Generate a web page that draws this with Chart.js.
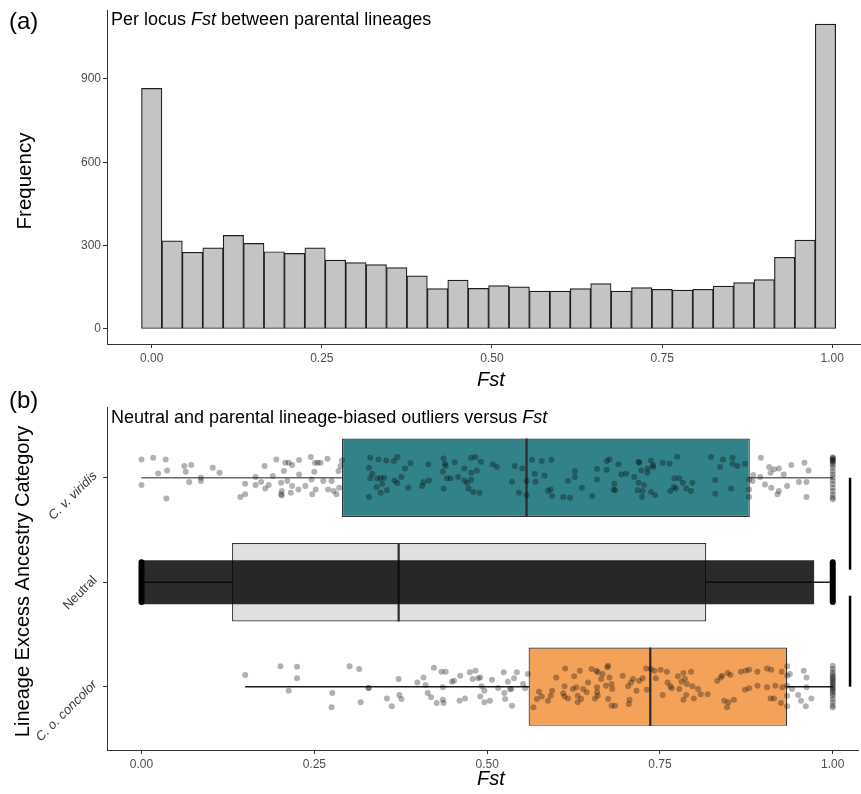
<!DOCTYPE html>
<html>
<head>
<meta charset="utf-8">
<script src="https://cdn.jsdelivr.net/npm/chart.js@4.4.1/dist/chart.umd.min.js"></script>
<style>
html, body { margin: 0; padding: 0; background: #fff; }
#wrap { position: relative; width: 861px; height: 794px; }
#histWrap { position: absolute; left: 0; top: 0; width: 861px; height: 390px; }
#boxWrap { position: absolute; left: 0; top: 390px; width: 861px; height: 404px; }
</style>
</head>
<body>
<div id="wrap">
  <div id="histWrap"><canvas id="histChart"></canvas></div>
  <div id="boxWrap"><canvas id="boxChart"></canvas></div>
</div>
<script>
// -------------------------
// DATA (a) histogram
// -------------------------
const binCenters = [0.00, 0.03, 0.06, 0.09, 0.12, 0.15, 0.18, 0.21, 0.24, 0.27, 0.30, 0.33,
                    0.36, 0.39, 0.42, 0.45, 0.48, 0.51, 0.54, 0.57, 0.60, 0.63, 0.66, 0.69,
                    0.72, 0.75, 0.78, 0.81, 0.84, 0.87, 0.90, 0.93, 0.96, 0.99];
const binCounts = [866, 317, 276, 292, 337, 308, 278, 272, 292, 248, 239, 232,
                   221, 191, 145, 176, 146, 156, 152, 136, 136, 145, 163, 136,
                   149, 143, 140, 143, 154, 167, 178, 258, 320, 1097];
const fstTicks = [0, 0.25, 0.5, 0.75, 1];
const freqTicks = [0, 300, 600, 900];

// -------------------------
// DATA (b) boxplots
// -------------------------
const categories = ['C. o. concolor', 'Neutral', 'C. v. viridis'];
const catPos = [1, 2, 3];
const catItalic = [true, false, true];
const boxQ1 = [0.560, 0.131, 0.290];
const boxMedian = [0.736, 0.372, 0.557];
const boxQ3 = [0.934, 0.817, 0.880];
const whiskerLow = [0.150, 0.000, 0.000];
const whiskerHigh = [1.000, 1.000, 1.000];
const boxColors = ['#f4a25a', '#e0e0e0', '#318289'];
const whiskerColors = ['#1a1a1a', '#1a1a1a', '#6b6b6b'];

// Neutral loci: a dense cloud, summarised by its range and spread
const neutralRange = [0.000, 0.973];
const neutralSpread = 0.42;
const neutralStackFst = [0.000, 1.000];

// [Fst, vertical jitter]
const viridisPoints = [
  [0.000,0.175],[0.017,0.191],[0.035,0.175],[0.000,-0.070],[0.024,0.041],[0.037,0.070],[0.036,-0.198],
  [0.062,0.112],[0.072,0.121],[0.064,0.057],[0.069,-0.041],[0.086,0.000],[0.086,-0.032],[0.103,0.096],
  [0.113,0.048],[0.143,-0.185],[0.150,-0.159],[0.150,-0.057],[0.165,0.006],[0.165,-0.070],[0.173,-0.041],
  [0.178,0.112],[0.179,-0.102],[0.184,-0.070],[0.190,0.016],[0.195,0.175],[0.202,-0.048],[0.203,-0.128],
  [0.206,0.064],[0.208,0.144],[0.211,-0.032],[0.213,0.144],[0.216,-0.144],[0.218,0.121],[0.202,-0.159],
  [0.203,-0.169],[0.218,-0.080],[0.228,0.169],[0.228,0.032],[0.227,-0.112],[0.237,-0.080],[0.245,0.198],
  [0.246,-0.016],[0.247,-0.159],[0.250,0.057],[0.251,0.144],[0.252,-0.112],[0.255,0.144],[0.259,0.144],
  [0.263,-0.032],[0.269,0.182],[0.270,-0.112],[0.275,-0.032],[0.278,-0.128],[0.282,-0.159],[0.285,0.064],
  [0.290,0.166],[0.288,0.112],[0.286,-0.096],
  [0.331,0.191],[0.329,0.096],[0.334,0.038],[0.331,-0.006],[0.343,0.175],[0.341,-0.006],[0.346,-0.006],
  [0.351,0.000],[0.340,-0.089],[0.348,-0.057],[0.346,-0.144],[0.355,-0.121],[0.354,0.166],[0.365,0.159],
  [0.370,0.198],[0.366,-0.026],[0.370,-0.051],[0.376,0.006],[0.381,0.089],[0.386,-0.096],[0.389,0.140],
  [0.329,-0.185],[0.406,-0.080],[0.408,-0.041],[0.416,-0.026],[0.415,0.128],[0.437,0.185],[0.439,0.134],
  [0.440,0.112],[0.436,0.057],[0.442,-0.006],[0.447,-0.006],[0.437,-0.102],[0.453,0.147],[0.458,0.006],
  [0.467,0.089],[0.467,-0.026],[0.471,-0.048],[0.473,-0.102],[0.477,0.191],[0.483,0.198],[0.477,0.048],
  [0.477,-0.019],[0.485,0.070],[0.480,-0.137],[0.489,-0.144],[0.491,0.153],[0.508,0.128],[0.514,0.102],
  [0.540,0.112],[0.551,0.089],[0.536,-0.038],[0.546,-0.144],[0.557,-0.032],[0.557,-0.166],[0.565,0.172],
  [0.579,0.159],[0.593,0.172],[0.569,0.038],[0.583,0.022],[0.570,-0.038],[0.588,-0.128],[0.592,-0.112],
  [0.594,-0.175],[0.610,-0.185],[0.620,-0.191],[0.617,-0.032],[0.627,0.064],[0.627,0.006],[0.637,-0.096],
  [0.652,-0.175],[0.659,0.083],[0.659,-0.016],[0.673,0.159],[0.673,0.077],
  [0.677,0.175],[0.690,0.128],[0.694,0.032],[0.701,0.038],[0.684,-0.057],[0.683,-0.112],[0.685,-0.121],
  [0.713,0.006],[0.720,0.144],[0.719,0.153],[0.723,0.070],[0.732,0.089],[0.732,0.048],[0.737,0.166],
  [0.740,0.121],[0.740,0.102],[0.754,0.144],[0.764,0.134],[0.775,0.201],[0.719,-0.048],[0.727,-0.070],
  [0.718,-0.121],[0.725,-0.128],[0.724,-0.185],[0.737,-0.137],[0.743,-0.166],[0.771,-0.006],[0.778,-0.006],
  [0.770,-0.089],[0.773,-0.102],[0.783,-0.048],[0.788,-0.102],[0.797,-0.048],[0.795,-0.128],[0.765,-0.128],
  [0.824,0.198],[0.841,0.175],[0.837,0.102],[0.855,0.191],[0.855,0.134],[0.862,0.112],[0.873,0.134],
  [0.830,-0.022],[0.853,-0.102],[0.830,-0.153],[0.879,-0.016],[0.879,-0.112],[0.879,-0.185],[0.896,0.191],
  [0.908,0.102],[0.915,0.080],[0.922,0.089],[0.910,0.048],[0.929,0.032],[0.940,0.121],[0.959,0.144],
  [0.965,0.070],[0.885,0.026],[0.884,-0.032],[0.895,0.006],[0.902,-0.064],[0.911,-0.096],[0.922,-0.128],
  [0.920,-0.159],[0.934,-0.080],[0.951,-0.041],[0.962,-0.041],[0.962,-0.185]
];
const viridisStackJit = [0.195, 0.188, 0.180, 0.172, 0.163, 0.152, 0.140, 0.122, 0.095, 0.062,
                         0.030, 0.002, -0.028, -0.060, -0.095, -0.128, -0.160, -0.190, -0.205];

const concolorPoints = [
  [0.150,0.112],[0.201,0.195],[0.225,0.191],[0.225,0.080],[0.213,-0.038],[0.276,-0.061],[0.275,-0.198],
  [0.301,0.195],[0.315,0.169],[0.317,-0.150],[0.328,-0.013],
  [0.329,-0.013],[0.355,-0.112],[0.362,-0.188],[0.372,0.073],[0.373,-0.080],[0.376,-0.118],[0.399,0.041],
  [0.408,0.089],[0.411,0.016],[0.414,-0.061],[0.419,-0.102],[0.423,0.182],[0.427,-0.156],[0.434,0.144],
  [0.440,0.144],[0.436,-0.006],[0.436,-0.124],[0.437,-0.156],[0.449,0.048],[0.452,0.057],[0.461,0.105],
  [0.460,-0.134],[0.468,-0.112],[0.475,0.137],[0.483,0.153],[0.479,0.073],[0.487,0.080],[0.490,0.089],
  [0.492,0.003],[0.490,-0.093],[0.496,-0.150],[0.496,-0.038],[0.504,-0.134],[0.507,0.067],[0.516,-0.013],
  [0.524,0.137],[0.530,0.048],[0.525,-0.061],[0.526,-0.118],[0.533,-0.022],[0.535,-0.022],[0.536,-0.182],
  [0.539,0.080],[0.543,0.137],[0.552,0.026],[0.559,0.121],[0.555,-0.016],
  [0.567,-0.198],[0.572,-0.118],[0.575,-0.048],[0.579,-0.093],[0.588,-0.134],[0.592,-0.086],[0.594,-0.038],
  [0.600,0.089],[0.610,-0.064],[0.612,0.003],[0.613,0.175],[0.612,-0.093],[0.617,-0.112],[0.624,-0.022],
  [0.626,0.099],[0.629,-0.006],[0.631,-0.086],[0.631,-0.150],[0.634,0.153],[0.636,-0.118],[0.639,-0.022],
  [0.646,0.041],[0.644,-0.054],[0.651,0.169],[0.658,0.153],[0.660,0.137],[0.659,-0.006],[0.659,-0.054],
  [0.660,-0.086],[0.665,0.073],[0.667,0.121],[0.656,-0.112],[0.674,0.185],[0.672,0.010],
  [0.675,0.201],[0.677,0.089],[0.680,0.026],[0.681,-0.022],[0.675,-0.118],[0.680,-0.182],[0.685,-0.182],
  [0.696,0.105],[0.704,0.003],[0.708,0.041],[0.711,0.073],[0.706,-0.124],[0.705,-0.166],[0.716,-0.038],
  [0.720,0.057],[0.725,0.080],[0.731,-0.029],[0.730,0.175],[0.737,0.169],[0.742,0.153],[0.744,0.080],
  [0.751,0.163],[0.754,-0.080],[0.760,0.144],[0.761,0.041],[0.765,0.003],[0.767,-0.016],[0.776,0.099],
  [0.778,-0.022],[0.781,0.048],[0.784,0.131],[0.786,0.073],[0.784,-0.124],[0.789,0.026],[0.788,-0.080],
  [0.795,0.144],[0.797,0.003],[0.799,-0.112],[0.805,-0.022],[0.809,-0.073],[0.819,-0.073],[0.833,0.057],
  [0.838,0.089],[0.840,0.105],[0.848,0.131],[0.852,0.112],[0.843,-0.134],[0.847,-0.198],[0.849,-0.150],
  [0.857,-0.124],[0.867,0.144],[0.874,0.153],[0.879,0.163],[0.891,0.144],[0.873,-0.029],[0.879,-0.016],
  [0.891,0.010],[0.905,0.175],[0.911,0.163],[0.905,-0.006],[0.910,-0.112],[0.917,0.010],[0.915,-0.112],
  [0.926,0.144],[0.927,-0.006],[0.925,-0.156],[0.934,0.195],[0.934,0.105],[0.934,0.010],[0.934,-0.086],
  [0.934,-0.188],[0.938,0.121],[0.941,-0.022],[0.950,-0.080],[0.958,0.153],[0.962,0.089],[0.962,-0.006],
  [0.954,-0.134],[0.961,-0.188],[0.969,-0.112]
];
const concolorStackJit = [0.200, 0.170, 0.140, 0.120, 0.100, 0.085, 0.070, 0.055, 0.040, 0.025, 0.010,
                          -0.005, -0.020, -0.035, -0.050, -0.070, -0.090, -0.120, -0.150, -0.180, -0.200];

// significance brackets on the right
const sigX = 1.025;
const sigSpans = [[2.12, 3.00], [1.00, 1.87]];

// -------------------------
// HELPERS
// -------------------------
const FONT = '"Liberation Sans", Arial, Helvetica, sans-serif';
Chart.defaults.font.family = FONT;

function fontStr(size, italic) {
    return (italic ? 'italic ' : '') + size + 'px ' + FONT;
}

function drawRich(ctx, parts, x, y, size) {
    let cx = x;
    parts.forEach(p => {
        ctx.font = fontStr(size, p[1]);
        ctx.fillText(p[0], cx, y);
        cx += ctx.measureText(p[0]).width;
    });
}

function axisStyle(extra) {
    return Object.assign({
        type: 'linear',
        offset: false,
        grid: { display: true, drawOnChartArea: false, drawTicks: true, tickLength: 4, color: '#333', lineWidth: 1, offset: false },
        border: { display: true, color: '#333', width: 1 },
        ticks: { color: '#4d4d4d', font: { size: 12 }, padding: 2, maxRotation: 0, autoSkip: false }
    }, extra);
}

function linePts(x1, y1, x2, y2) {
    return [{ x: x1, y: y1 }, { x: x2, y: y2 }];
}

// -------------------------
// (a) HISTOGRAM
// -------------------------
const histCtx = document.getElementById('histChart').getContext('2d');
new Chart(histCtx, {
    type: 'bar',
    data: {
        datasets: [{
            data: binCenters.map((c, i) => ({ x: c, y: binCounts[i] })),
            backgroundColor: '#c4c4c4',
            borderColor: '#1e1e1e',
            borderWidth: 1.2,
            borderSkipped: false,
            barPercentage: 1,
            categoryPercentage: 1
        }]
    },
    options: {
        responsive: true,
        maintainAspectRatio: false,
        animation: false,
        devicePixelRatio: 1,
        layout: { padding: { top: 10, right: 0, bottom: 0, left: 0 } },
        plugins: { legend: { display: false }, tooltip: { enabled: false } },
        scales: {
            x: axisStyle({
                min: -0.0657, max: 1.0422,
                afterBuildTicks: ax => { ax.ticks = fstTicks.map(v => ({ value: v })); },
                afterFit: ax => { ax.height = 46; },
                ticks: { color: '#4d4d4d', font: { size: 12 }, padding: 3, maxRotation: 0, autoSkip: false, callback: v => Number(v).toFixed(2) }
            }),
            y: axisStyle({
                min: -54, max: 1148,
                afterBuildTicks: ax => { ax.ticks = freqTicks.map(v => ({ value: v })); },
                afterFit: ax => { ax.width = 107; }
            })
        }
    },
    plugins: [{
        id: 'histText',
        afterDraw(chart) {
            const ctx = chart.ctx;
            ctx.save();
            ctx.fillStyle = '#000';
            ctx.textBaseline = 'alphabetic';
            ctx.textAlign = 'left';
            ctx.font = fontStr(24, false);
            ctx.fillText('(a)', 9, 29);
            drawRich(ctx, [['Per locus ', false], ['Fst', true], [' between parental lineages', false]], 111, 25, 18);
            ctx.textAlign = 'center';
            ctx.font = fontStr(20, true);
            ctx.fillText('Fst', 491, 386);
            ctx.translate(31, 181);
            ctx.rotate(-Math.PI / 2);
            ctx.font = fontStr(20.5, false);
            ctx.fillText('Frequency', 0, 0);
            ctx.restore();
        }
    }]
});

// -------------------------
// (b) BOXPLOTS + JITTER
// -------------------------
const boxDatasets = [];

// whiskers (under the boxes)
catPos.forEach((p, i) => {
    boxDatasets.push({
        type: 'scatter', showLine: true, order: 6,
        data: linePts(whiskerLow[i], p, whiskerHigh[i], p),
        borderColor: whiskerColors[i], borderWidth: 1.5, pointRadius: 0
    });
});

// boxes
boxDatasets.push({
    type: 'bar', indexAxis: 'y', grouped: false, order: 5,
    data: catPos.map((p, i) => ({ y: p, x: [boxQ1[i], boxQ3[i]] })),
    backgroundColor: boxColors,
    borderColor: '#333',
    borderWidth: 1.2,
    borderSkipped: false,
    barPercentage: 0.75,
    categoryPercentage: 1
});

// medians
catPos.forEach((p, i) => {
    boxDatasets.push({
        type: 'scatter', showLine: true, order: 4,
        data: linePts(boxMedian[i], p - 0.375, boxMedian[i], p + 0.375),
        borderColor: '#2b2b2b', borderWidth: 2.2, pointRadius: 0
    });
});

// neutral cloud
boxDatasets.push({
    type: 'bar', indexAxis: 'y', grouped: false, order: 3,
    data: [{ y: 2, x: neutralRange }],
    backgroundColor: 'rgba(8,8,8,0.86)',
    borderWidth: 0,
    barPercentage: neutralSpread,
    categoryPercentage: 1
});
neutralStackFst.forEach(f => {
    boxDatasets.push({
        type: 'scatter', showLine: true, order: 2,
        data: linePts(f, 2 - 0.19, f, 2 + 0.19),
        borderColor: '#000', borderWidth: 6, borderCapStyle: 'round', pointRadius: 0
    });
});

// jittered outlier loci
const pointStyle = { type: 'scatter', order: 0, pointRadius: 3, pointHoverRadius: 3, backgroundColor: 'rgba(0,0,0,0.3)', borderWidth: 0 };
boxDatasets.push(Object.assign({}, pointStyle, {
    data: viridisPoints.map(d => ({ x: d[0], y: 3 + d[1] }))
        .concat(viridisStackJit.map(j => ({ x: 1, y: 3 + j })))
}));
boxDatasets.push(Object.assign({}, pointStyle, {
    data: concolorPoints.map(d => ({ x: d[0], y: 1 + d[1] }))
        .concat(concolorStackJit.map(j => ({ x: 1, y: 1 + j })))
}));

// significance brackets
sigSpans.forEach(s => {
    boxDatasets.push({
        type: 'scatter', showLine: true, order: 1,
        data: linePts(sigX, s[0], sigX, s[1]),
        borderColor: '#000', borderWidth: 2.5, pointRadius: 0
    });
});

const boxCtx = document.getElementById('boxChart').getContext('2d');
new Chart(boxCtx, {
    type: 'scatter',
    data: { datasets: boxDatasets },
    options: {
        responsive: true,
        maintainAspectRatio: false,
        animation: false,
        devicePixelRatio: 1,
        layout: { padding: { top: 17, right: 0, bottom: 0, left: 0 } },
        plugins: { legend: { display: false }, tooltip: { enabled: false } },
        scales: {
            x: axisStyle({
                min: -0.0499, max: 1.0365,
                afterBuildTicks: ax => { ax.ticks = fstTicks.map(v => ({ value: v })); },
                afterFit: ax => { ax.height = 44; },
                ticks: { color: '#4d4d4d', font: { size: 12 }, padding: 3, maxRotation: 0, autoSkip: false, callback: v => Number(v).toFixed(2) }
            }),
            y: axisStyle({
                min: 0.394, max: 3.677,
                afterBuildTicks: ax => { ax.ticks = catPos.map(v => ({ value: v })); },
                afterFit: ax => { ax.width = 107; },
                ticks: { display: false }
            })
        }
    },
    plugins: [{
        id: 'boxText',
        afterDraw(chart) {
            const ctx = chart.ctx;
            const yScale = chart.scales.y;
            ctx.save();
            ctx.fillStyle = '#000';
            ctx.textBaseline = 'alphabetic';
            ctx.textAlign = 'left';
            ctx.font = fontStr(24, false);
            ctx.fillText('(b)', 9, 18);
            drawRich(ctx, [['Neutral and parental lineage-biased outliers versus ', false], ['Fst', true]], 111, 33, 18);
            ctx.textAlign = 'center';
            ctx.font = fontStr(20, true);
            ctx.fillText('Fst', 491, 395);

            // rotated category labels
            ctx.fillStyle = '#3a3a3a';
            catPos.forEach((p, i) => {
                const py = yScale.getPixelForValue(p);
                ctx.save();
                ctx.translate(95, py - 4);
                ctx.rotate(-Math.PI / 4);
                ctx.textAlign = 'right';
                ctx.textBaseline = 'middle';
                ctx.font = fontStr(13, catItalic[i]);
                ctx.fillText(categories[i], 0, 0);
                ctx.restore();
            });

            ctx.fillStyle = '#000';
            ctx.translate(29, 191.5);
            ctx.rotate(-Math.PI / 2);
            ctx.textAlign = 'center';
            ctx.font = fontStr(20, false);
            ctx.fillText('Lineage Excess Ancestry Category', 0, 0);
            ctx.restore();
        }
    }]
});
</script>
</body>
</html>
